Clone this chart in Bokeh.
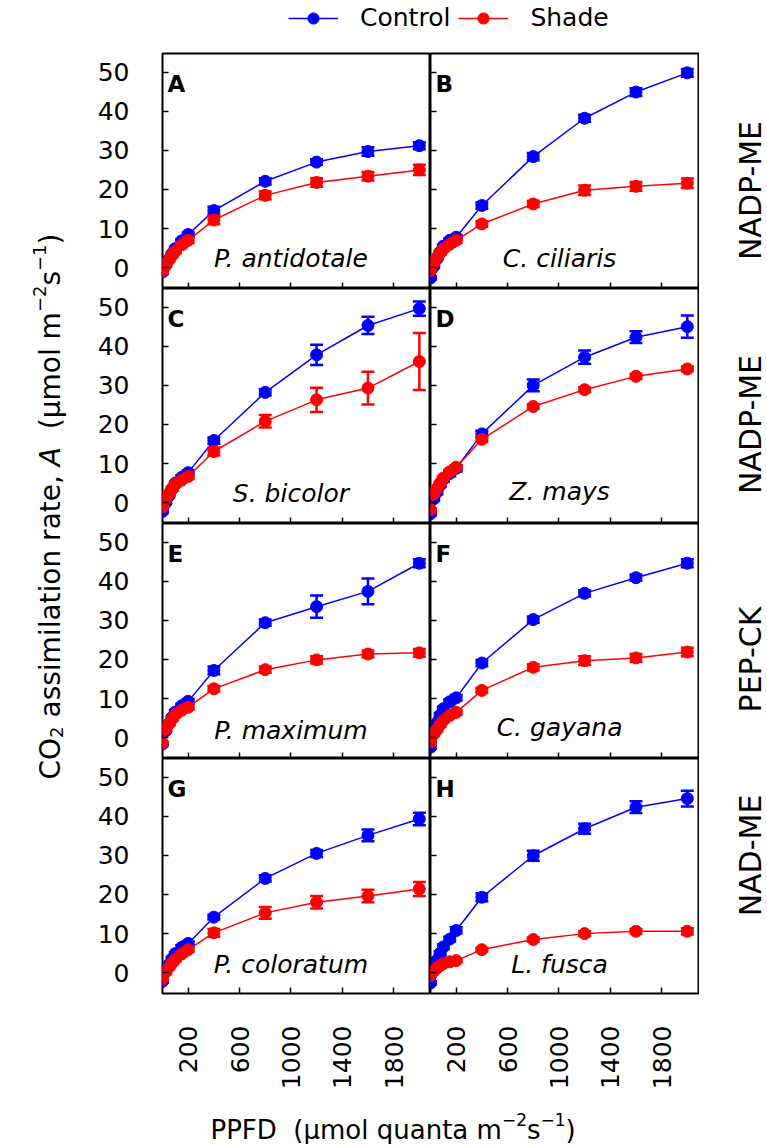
from math import pi
from bokeh.plotting import figure
from bokeh.models import Range1d, FixedTicker, Label, Legend, LegendItem
from bokeh.layouts import column, row
from bokeh.embed import file_html
from bokeh.resources import INLINE

FONT = "DejaVu Sans"
BLUE = "#0000ff"
RED = "#ff0000"

# ---------------- data ----------------
PPFD = [0, 25, 50, 75, 100, 150, 200, 400, 800, 1200, 1600, 2000]
X_TICKS = [200, 600, 1000, 1400, 1800]
Y_TICKS = [0, 10, 20, 30, 40, 50]
LETTERS = ["A", "B", "C", "D", "E", "F", "G", "H"]
SPECIES = ["P. antidotale", "C. ciliaris", "S. bicolor", "Z. mays",
           "P. maximum", "C. gayana", "P. coloratum", "L. fusca"]
GROUPS = ["NADP-ME", "NADP-ME", "PEP-CK", "NAD-ME"]
SERIES = ["Control", "Shade"]

A_control = [-1.1, 0.6, 2.2, 3.6, 4.9, 6.9, 8.5, 14.6, 22.1, 27.0, 29.7, 31.2]
A_control_err = [0.4, 0.3, 0.3, 0.3, 0.4, 0.4, 0.5, 1.0, 0.8, 0.7, 1.1, 0.9]
A_shade = [-0.9, 0.7, 2.0, 3.2, 4.3, 5.9, 7.0, 12.2, 18.5, 21.8, 23.4, 25.0]
A_shade_err = [0.3, 0.3, 0.4, 0.4, 0.5, 0.6, 0.7, 1.1, 1.0, 1.1, 1.1, 1.3]

B_control = [-2.6, 0.3, 2.3, 4.0, 5.5, 7.0, 7.8, 15.9, 28.4, 38.2, 44.9, 49.8]
B_control_err = [0.4, 0.3, 0.3, 0.3, 0.4, 0.5, 0.6, 0.8, 0.9, 0.9, 1.0, 1.0]
B_shade = [-0.7, 1.3, 2.6, 3.8, 4.8, 6.0, 7.0, 11.2, 16.3, 19.8, 20.8, 21.6]
B_shade_err = [0.3, 0.4, 0.4, 0.5, 0.5, 0.6, 0.7, 0.7, 0.8, 1.2, 1.1, 1.2]

C_control = [-2.2, 0.0, 1.8, 3.5, 5.0, 6.5, 7.7, 15.9, 28.2, 37.8, 45.3, 49.6]
C_control_err = [0.4, 0.3, 0.3, 0.3, 0.4, 0.5, 0.6, 0.8, 0.8, 2.6, 2.2, 1.8]
C_shade = [-1.1, 0.9, 2.3, 3.6, 4.7, 5.8, 6.7, 13.1, 20.8, 26.3, 29.3, 36.1]
C_shade_err = [0.3, 0.3, 0.4, 0.4, 0.5, 0.5, 0.6, 1.0, 1.6, 3.1, 4.2, 7.3]

D_control = [-2.8, 1.0, 2.7, 4.5, 6.0, 7.5, 8.8, 17.6, 30.0, 37.2, 42.3, 45.0]
D_control_err = [0.4, 0.4, 0.5, 0.5, 0.6, 0.7, 0.8, 0.8, 1.5, 1.7, 1.5, 2.85]
D_shade = [-1.8, 2.3, 3.6, 5.0, 6.3, 7.9, 9.1, 16.2, 24.6, 28.9, 32.3, 34.2]
D_shade_err = [0.3, 0.4, 0.4, 0.4, 0.4, 0.5, 0.5, 0.6, 0.6, 0.6, 0.6, 0.6]

E_control = [-1.6, 1.8, 3.6, 5.2, 6.6, 8.2, 9.3, 17.2, 29.4, 33.5, 37.4, 44.6]
E_control_err = [0.3, 0.3, 0.4, 0.4, 0.5, 0.5, 0.6, 1.0, 0.8, 2.85, 3.3, 1.0]
E_shade = [-1.4, 2.2, 3.6, 4.8, 5.9, 7.0, 7.8, 12.5, 17.4, 19.9, 21.4, 21.7]
E_shade_err = [0.3, 0.4, 0.4, 0.4, 0.5, 0.5, 0.6, 0.7, 0.8, 0.9, 0.9, 1.0]

F_control = [-2.4, 1.5, 3.8, 5.8, 7.4, 9.2, 10.2, 19.1, 30.2, 36.9, 40.9, 44.6]
F_control_err = [0.4, 0.4, 0.5, 0.5, 0.5, 0.6, 0.7, 0.8, 0.8, 0.8, 0.8, 1.0]
F_shade = [-1.1, 0.9, 2.1, 3.3, 4.4, 5.7, 6.5, 12.1, 18.0, 19.7, 20.4, 21.9]
F_shade_err = [0.3, 0.3, 0.4, 0.4, 0.4, 0.5, 0.6, 0.6, 0.8, 1.1, 1.0, 1.1]

G_control = [-2.2, 0.4, 2.1, 3.6, 4.9, 6.5, 7.5, 14.2, 24.1, 30.5, 35.1, 39.3]
G_control_err = [0.3, 0.3, 0.3, 0.4, 0.4, 0.5, 0.5, 0.6, 0.8, 0.9, 1.5, 1.6]
G_shade = [-1.6, 0.2, 1.4, 2.5, 3.4, 4.8, 5.9, 10.2, 15.3, 18.0, 19.6, 21.4]
G_shade_err = [0.3, 0.3, 0.3, 0.4, 0.4, 0.5, 0.5, 1.0, 1.5, 1.6, 1.6, 1.8]

H_control = [-2.6, 1.0, 3.2, 5.0, 6.6, 8.6, 10.8, 19.3, 29.9, 36.8, 42.3, 44.5]
H_control_err = [0.4, 0.4, 0.5, 0.5, 0.6, 0.6, 0.8, 1.0, 1.3, 1.3, 1.5, 2.0]
H_shade = [-0.7, 0.4, 1.2, 1.8, 2.3, 2.8, 3.1, 5.9, 8.5, 10.0, 10.6, 10.6]
H_shade_err = [0.3, 0.3, 0.3, 0.3, 0.3, 0.3, 0.4, 0.4, 0.5, 0.6, 0.6, 0.8]

PANELS = [
    (A_control, A_control_err, A_shade, A_shade_err),
    (B_control, B_control_err, B_shade, B_shade_err),
    (C_control, C_control_err, C_shade, C_shade_err),
    (D_control, D_control_err, D_shade, D_shade_err),
    (E_control, E_control_err, E_shade, E_shade_err),
    (F_control, F_control_err, F_shade, F_shade_err),
    (G_control, G_control_err, G_shade, G_shade_err),
    (H_control, H_control_err, H_shade, H_shade_err),
]

# ---------------- layout constants ----------------
X_END = 2087
Y_START, Y_END = -5.3, 54.75
SPECIES_X = [1000, 1005]
SPECIES_Y = [2.3, 2.3, 2.3, 2.9, 1.8, 2.7, 2.1, 2.1]
GRID_TOP = 49          # page y where the panel block starts
GRID_H = 239 + 235 + 235 + 335
GROUP_CENTER_PAGE_Y = [190, 424, 659, 855]

# DejaVu Sans advance widths (em) used to place rich-text pieces
ADV = {' ': .318, '(': .390, ')': .390, ',': .318, 'A': .684, 'C': .698, 'O': .787,
       'a': .613, 'e': .615, 'i': .278, 'l': .278, 'm': .974, 'n': .634, 'o': .612,
       'r': .411, 's': .521, 't': .392, 'q': .635, 'u': .634, 'P': .603, 'F': .575,
       'D': .770, 'μ': .636, '−': .838, '1': .636, '2': .636}


def adv(s, size):
    return sum(ADV.get(c, 0.6) for c in s) * size


def blank(width, height, xr, yr):
    f = figure(width=width, height=height, x_range=Range1d(*xr), y_range=Range1d(*yr),
               output_backend="svg", toolbar_location=None, min_border=0,
               x_axis_location=None, y_axis_location=None)
    f.outline_line_color = None
    f.background_fill_color = "white"
    f.border_fill_color = "white"
    f.grid.visible = False
    return f


def make_panel(k):
    r, c = divmod(k, 2)
    left, top, bottom = c == 0, r == 0, r == 3
    w = 342 if left else 269
    h = 235 + (4 if top else 0) + (100 if bottom else 0)
    p = figure(width=w, height=h, x_range=Range1d(0, X_END), y_range=Range1d(Y_START, Y_END),
               output_backend="svg", toolbar_location=None,
               min_border_left=74 if left else 0, min_border_right=0 if left else 1,
               min_border_top=4 if top else 0, min_border_bottom=100 if bottom else 0)
    p.grid.visible = False
    p.outline_line_color = "black"
    p.outline_line_width = 2
    p.background_fill_color = "white"
    p.border_fill_color = "white"
    xa, ya = p.xaxis[0], p.yaxis[0]
    for ax in (xa, ya):
        ax.axis_line_color = None
        ax.major_tick_in = 6
        ax.major_tick_out = 0
        ax.minor_tick_line_color = None
        ax.major_tick_line_color = "black"
        ax.major_tick_line_width = 1.5
        ax.major_label_text_font = FONT
        ax.major_label_text_font_size = "25px"
        ax.major_label_text_color = "black"
    xa.ticker = FixedTicker(ticks=X_TICKS)
    ya.ticker = FixedTicker(ticks=Y_TICKS)
    if left:
        ya.major_label_standoff = 33
    else:
        ya.fixed_location = 0
        ya.major_label_overrides = {t: "" for t in Y_TICKS}
    if bottom:
        xa.major_label_orientation = pi / 2
        xa.major_label_standoff = 32
    else:
        xa.fixed_location = Y_START
        xa.major_label_overrides = {t: "" for t in X_TICKS}

    ctrl, ctrl_err, shade, shade_err = PANELS[k]
    for vals, errs, color in ((ctrl, ctrl_err, BLUE), (shade, shade_err, RED)):
        lo = [v - e for v, e in zip(vals, errs)]
        hi = [v + e for v, e in zip(vals, errs)]
        p.line(PPFD, vals, line_color=color, line_width=1.5)
        p.segment(x0=PPFD, y0=lo, x1=PPFD, y1=hi, line_color=color, line_width=2.5)
        p.scatter(PPFD, hi, marker="dash", size=13, line_color=color, line_width=2.5)
        p.scatter(PPFD, lo, marker="dash", size=13, line_color=color, line_width=2.5)
        p.scatter(PPFD, vals, marker="circle", size=12, fill_color=color, line_color=color)

    p.add_layout(Label(x=38, y=47, text=LETTERS[k], text_font=FONT, text_font_size="23px",
                       text_font_style="bold", text_align="left", text_baseline="alphabetic",
                       text_color="black"))
    p.add_layout(Label(x=SPECIES_X[c], y=SPECIES_Y[k], text=SPECIES[k], text_font=FONT,
                       text_font_size="25px", text_font_style="italic", text_align="center",
                       text_baseline="alphabetic", text_color="black"))
    return p


panels = [make_panel(k) for k in range(8)]
grid = column(row(panels[0], panels[1]), row(panels[2], panels[3]),
              row(panels[4], panels[5]), row(panels[6], panels[7]))

# ---------------- right-hand group labels ----------------
rf = blank(68, GRID_H, (0, 68), (0, GRID_H))
for name, py in zip(GROUPS, GROUP_CENTER_PAGE_Y):
    rf.add_layout(Label(x=51, y=GRID_TOP + GRID_H - py, text=name, text_font=FONT,
                        text_font_size="30px", angle=pi / 2, text_align="center",
                        text_baseline="middle", text_color="black"))

# ---------------- legend ----------------
lf = blank(767, GRID_TOP, (0, 1), (0, 1))
items = []
for name, color in zip(SERIES, (BLUE, RED)):
    l = lf.line(x=[float("nan")], y=[float("nan")], line_color=color, line_width=1.5)
    s = lf.scatter(x=[float("nan")], y=[float("nan")], marker="circle", size=12,
                   fill_color=color, line_color=color)
    items.append(LegendItem(label=name, renderers=[l, s]))
legend = Legend(items=items, location=(288, 17), orientation="horizontal",
                glyph_width=50, glyph_height=28, label_height=26, label_standoff=22,
                spacing=8, padding=0, margin=0, border_line_color=None,
                background_fill_alpha=0, label_text_font=FONT, label_text_font_size="25px",
                label_text_color="black")
lf.add_layout(legend)

# ---------------- y axis title (rotated rich text) ----------------
yf = blank(88, GRID_H, (0, 88), (0, GRID_H))
ypieces = [("CO", 28, "normal", 0), ("2", 18, "normal", 6),
           (" assimilation rate, ", 28, "normal", 0), ("A", 28, "italic", 0),
           ("  (μmol m", 28, "normal", 0), ("−2", 18, "normal", -11),
           ("s", 28, "normal", 0), ("−1", 18, "normal", -11), (")", 28, "normal", 0)]
total = sum(adv(t, s) for t, s, _, _ in ypieces)
pos = (GRID_TOP + GRID_H - 506) - total / 2
for t, s, st, sh in ypieces:
    lead = len(t) - len(t.lstrip(" "))
    trail = len(t) - len(t.rstrip(" "))
    core = t.strip(" ")
    pos += adv(" " * lead, s)
    yf.add_layout(Label(x=50 + sh, y=pos, text=core, angle=pi / 2, text_font=FONT,
                        text_font_size=f"{s}px", text_font_style=st, text_align="left",
                        text_baseline="alphabetic", text_color="black"))
    pos += adv(core, s) + adv(" " * trail, s)

# ---------------- x axis title ----------------
XT_H = 1144 - GRID_TOP - GRID_H
xf = blank(767, XT_H, (0, 767), (0, XT_H))
xpieces = [("PPFD", 26, 0), ("  (μmol quanta m", 26, 0), ("−2", 17, 10),
           ("s", 26, 0), ("−1", 17, 10), (")", 26, 0)]
pos = 210
for t, s, sh in xpieces:
    lead = len(t) - len(t.lstrip(" "))
    core = t.strip(" ")
    pos += adv(" " * lead, s)
    xf.add_layout(Label(x=pos, y=15 + sh, text=core, text_font=FONT, text_font_size=f"{s}px",
                        text_align="left", text_baseline="alphabetic", text_color="black"))
    pos += adv(core, s)

layout = column(lf, row(yf, grid, rf), xf)

with open("out.html", "w") as fh:
    fh.write(file_html(layout, INLINE))
